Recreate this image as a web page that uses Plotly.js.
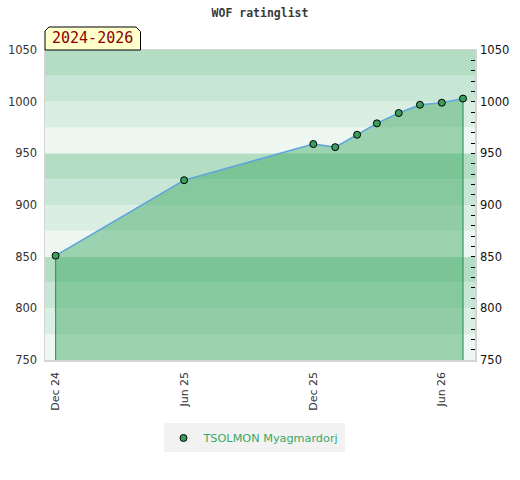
<!DOCTYPE html>
<html>
<head>
<meta charset="utf-8">
<script src="https://cdn.plot.ly/plotly-3.0.1.min.js"></script>
<style>
  html, body { margin: 0; padding: 0; background: #fff; }
  #chart { width: 520px; height: 480px; }
</style>
</head>
<body>
<div id="chart"></div>
<script>
// ---- data ----
const playerName = 'TSOLMON Myagmardorj';
const chartTitle = 'WOF ratinglist';
const periodLabel = '2024-2026';
const ratingDates = ['2024-12-01', '2025-06-01', '2025-12-01', '2026-01-01', '2026-02-01',
                     '2026-03-01', '2026-04-01', '2026-05-01', '2026-06-01', '2026-07-01'];
const ratingValues = [851, 924, 959, 956, 968, 979, 989, 997, 999, 1003];
const tickDates = ['2024-12-01', '2025-06-01', '2025-12-01', '2026-06-01'];
const tickLabels = ['Dec 24', 'Jun 25', 'Dec 25', 'Jun 26'];

// ---- layout constants ----
const yMin = 750, yMax = 1050;
const bandColors = ['#b3dec4', '#c8e6d5', '#dbeee3', '#eef7f1'];

const n = ratingDates.length;
const fillX = [ratingDates[0]].concat(ratingDates, [ratingDates[n - 1]]);
const fillY = [yMin].concat(ratingValues, [yMin]);

const traces = [
  { // shaded area under the rating curve
    x: fillX, y: fillY, type: 'scatter', mode: 'lines',
    fill: 'toself', fillcolor: 'rgba(46,162,87,0.43)',
    line: { width: 0 }, hoverinfo: 'skip', showlegend: false
  },
  { // left vertical edge
    x: [ratingDates[0], ratingDates[0]], y: [yMin, ratingValues[0]],
    type: 'scatter', mode: 'lines', line: { color: '#3a9a5a', width: 1.2 },
    showlegend: false, hoverinfo: 'skip'
  },
  { // right vertical edge
    x: [ratingDates[n - 1], ratingDates[n - 1]], y: [yMin, ratingValues[n - 1]],
    type: 'scatter', mode: 'lines', line: { color: '#3a9a5a', width: 1.2 },
    showlegend: false, hoverinfo: 'skip'
  },
  { // blue line
    x: ratingDates, y: ratingValues, type: 'scatter', mode: 'lines',
    line: { color: '#62a6dc', width: 1.6 }, showlegend: false
  },
  { // markers (legend entry)
    x: ratingDates, y: ratingValues, type: 'scatter', mode: 'markers',
    name: playerName,
    marker: { size: 7, color: '#3a9f5a', line: { color: '#000', width: 1 } }
  },
  { // invisible trace to anchor right axis
    x: ratingDates, y: ratingValues, yaxis: 'y2', type: 'scatter', mode: 'markers',
    marker: { opacity: 0 }, showlegend: false, hoverinfo: 'skip'
  }
];

const shapes = [];
for (let v = yMin, i = 0; v < yMax; v += 25, i++) {
  const idx = 3 - (i % 4);
  shapes.push({
    type: 'rect', xref: 'paper', yref: 'y', x0: 0, x1: 1, y0: v, y1: v + 25,
    fillcolor: bandColors[idx], line: { width: 0 }, layer: 'below'
  });
}
// period tag with clipped top corners
shapes.push({
  type: 'path', xref: 'paper', yref: 'paper',
  path: 'M 0 1 L 0 1.0613 L 0.0093 1.0742 L 0.2116 1.0742 L 0.2221 1.0597 L 0.2221 1 Z',
  fillcolor: '#ffffcc', line: { color: '#000', width: 1 }, layer: 'above'
});

const axisFont = { family: 'DejaVu Sans, Verdana, sans-serif', size: 11, color: '#333' };

const layout = {
  width: 520, height: 480,
  margin: { l: 45, r: 45, t: 50, b: 120, pad: 0 },
  paper_bgcolor: '#fff', plot_bgcolor: '#fff',
  title: {
    text: chartTitle, x: 0.5, xanchor: 'center', y: 1 - 13 / 480, yanchor: 'middle',
    xref: 'container', yref: 'container',
    font: { family: 'DejaVu Sans Mono, monospace', size: 11.5, color: '#3a3a3a', weight: 'bold' }
  },
  xaxis: {
    type: 'date', range: ['2024-11-16', '2026-07-18'],
    tickvals: tickDates, ticktext: tickLabels, tickangle: -90,
    tickfont: axisFont, ticks: '', showgrid: false, zeroline: false,
    showline: true, linecolor: '#d4d4d4', linewidth: 1.5, mirror: true,
    ticklabelstandoff: 6
  },
  yaxis: {
    range: [yMin, yMax], dtick: 50, tick0: 750, tickfont: { ...axisFont, size: 11.5 },
    ticks: '', showgrid: false, zeroline: false,
    showline: true, linecolor: '#d4d4d4', linewidth: 1.5, mirror: true,
    ticklabelstandoff: 4
  },
  yaxis2: {
    overlaying: 'y', side: 'right', range: [yMin, yMax], dtick: 50, tick0: 750,
    tickfont: { ...axisFont, size: 11.5, color: '#111' },
    ticks: 'inside', ticklen: 4, tickcolor: '#000', tickwidth: 1,
    minor: { dtick: 10, tick0: 750, ticks: 'inside', ticklen: 4, tickcolor: '#000', tickwidth: 1, showgrid: false },
    showgrid: false, zeroline: false, showline: false, ticklabelstandoff: 4
  },
  shapes: shapes,
  annotations: [{
    xref: 'paper', yref: 'paper', x: 0.1111, y: 1.0371, xanchor: 'center', yanchor: 'middle',
    text: periodLabel, showarrow: false,
    font: { family: 'DejaVu Sans Mono, monospace', size: 15, color: '#8b0000' }
  }],
  showlegend: true,
  legend: {
    orientation: 'h', x: (254 - 45) / 430, xanchor: 'center', y: -0.2048, yanchor: 'top',
    bgcolor: '#f2f2f2', borderwidth: 0,
    font: { family: 'DejaVu Sans, Verdana, sans-serif', size: 11.25, color: '#3aa864' },
    itemwidth: 30
  },
  hovermode: false
};

Plotly.newPlot('chart', traces, layout, { staticPlot: true, displayModeBar: false });
</script>
</body>
</html>
